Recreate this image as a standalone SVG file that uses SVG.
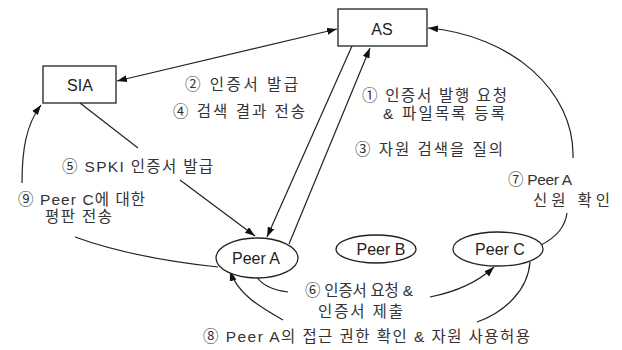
<svg xmlns="http://www.w3.org/2000/svg" width="622" height="350" viewBox="0 0 622 350">
<defs>
<style>
.box{fill:#fff;stroke:#222;stroke-width:1.3}
.node{fill:#fff;stroke:#222;stroke-width:1.3}
.nl{font-family:"Liberation Sans","Noto Sans CJK KR",sans-serif;font-size:16px;fill:#222;text-anchor:middle}
.lb{font-family:"Liberation Sans","Noto Sans CJK KR",sans-serif;font-size:15.5px;fill:#333}
.c{fill:none;stroke:#222;stroke-width:1.2}
</style>
<marker id="ah" markerWidth="11" markerHeight="8" refX="10" refY="3.5" orient="auto-start-reverse" markerUnits="userSpaceOnUse">
<path d="M0,0 L10,3.5 L0,7 z" fill="#111"/>
</marker>
</defs>
<rect width="622" height="350" fill="#fff"/>

<g id="connectors">
<path class="c" d="M117,81 L337,29" marker-start="url(#ah)" marker-end="url(#ah)"/>
<path class="c" d="M352,46 L267,237" marker-end="url(#ah)"/>
<path class="c" d="M289,244 L370,48" marker-end="url(#ah)"/>
<path class="c" d="M80,103 L138,148"/>
<path class="c" d="M180,180 L255,236" marker-end="url(#ah)"/>
<path class="c" d="M218,267 Q133,258 75,237"/>
<path class="c" d="M22,183 C22,150 26,125 41,105" marker-end="url(#ah)"/>
<path class="c" d="M541,245 C555,238 565,228 567,213"/>
<path class="c" d="M573,158 C575,90 510,35 428,28" marker-end="url(#ah)"/>
<path class="c" d="M257,277 C262,285 272,290 288,292"/>
<path class="c" d="M430,297 C455,292 478,282 494,267" marker-end="url(#ah)"/>
<path class="c" d="M530,262 C528,290 505,312 477,322"/>
<path class="c" d="M283,320 C262,308 238,295 230,271" marker-end="url(#ah)"/>
</g>

<g id="SIA">
<rect class="box" x="43" y="66" width="73" height="37"/>
<text class="nl" x="80" y="91">SIA</text>
</g>
<g id="AS">
<rect class="box" x="338" y="9" width="89" height="37"/>
<text class="nl" x="382" y="35">AS</text>
</g>
<g id="PeerA">
<ellipse class="node" cx="257" cy="258" rx="41" ry="20"/>
<text class="nl" x="256" y="264">Peer A</text>
</g>
<g id="PeerB">
<ellipse class="node" cx="376" cy="249" rx="40" ry="14"/>
<text class="nl" x="381" y="255">Peer B</text>
</g>
<g id="PeerC">
<ellipse class="node" cx="498" cy="249" rx="45" ry="17"/>
<text class="nl" x="500" y="255">Peer C</text>
</g>

<g id="labels">
<text class="lb" x="185" y="90" textLength="113" lengthAdjust="spacing">② 인증서 발급</text>
<text class="lb" x="173" y="117" textLength="132" lengthAdjust="spacing">④ 검색 결과 전송</text>
<text class="lb" x="362" y="101" textLength="145" lengthAdjust="spacing">① 인증서 발행 요청</text>
<text class="lb" x="383" y="119" textLength="122" lengthAdjust="spacing">&amp; 파일목록 등록</text>
<text class="lb" x="355" y="155" textLength="148" lengthAdjust="spacing">③ 자원 검색을 질의</text>
<text class="lb" x="62" y="172" textLength="151" lengthAdjust="spacing">⑤ SPKI 인증서 발급</text>
<text class="lb" x="18" y="205" textLength="127" lengthAdjust="spacing">⑨ Peer C에 대한</text>
<text class="lb" x="45" y="222" textLength="67" lengthAdjust="spacing">평판 전송</text>
<text class="lb" x="508" y="185" textLength="64" lengthAdjust="spacing">⑦ Peer A</text>
<text class="lb" x="533" y="206" textLength="77" lengthAdjust="spacing">신원 확인</text>
<text class="lb" x="305" y="296" textLength="108" lengthAdjust="spacing">⑥ 인증서 요청 &amp;</text>
<text class="lb" x="318" y="317" textLength="85" lengthAdjust="spacing">인증서 제출</text>
<text class="lb" x="203" y="342" textLength="327" lengthAdjust="spacing">⑧ Peer A의 접근 권한 확인 &amp; 자원 사용허용</text>
</g>
</svg>
